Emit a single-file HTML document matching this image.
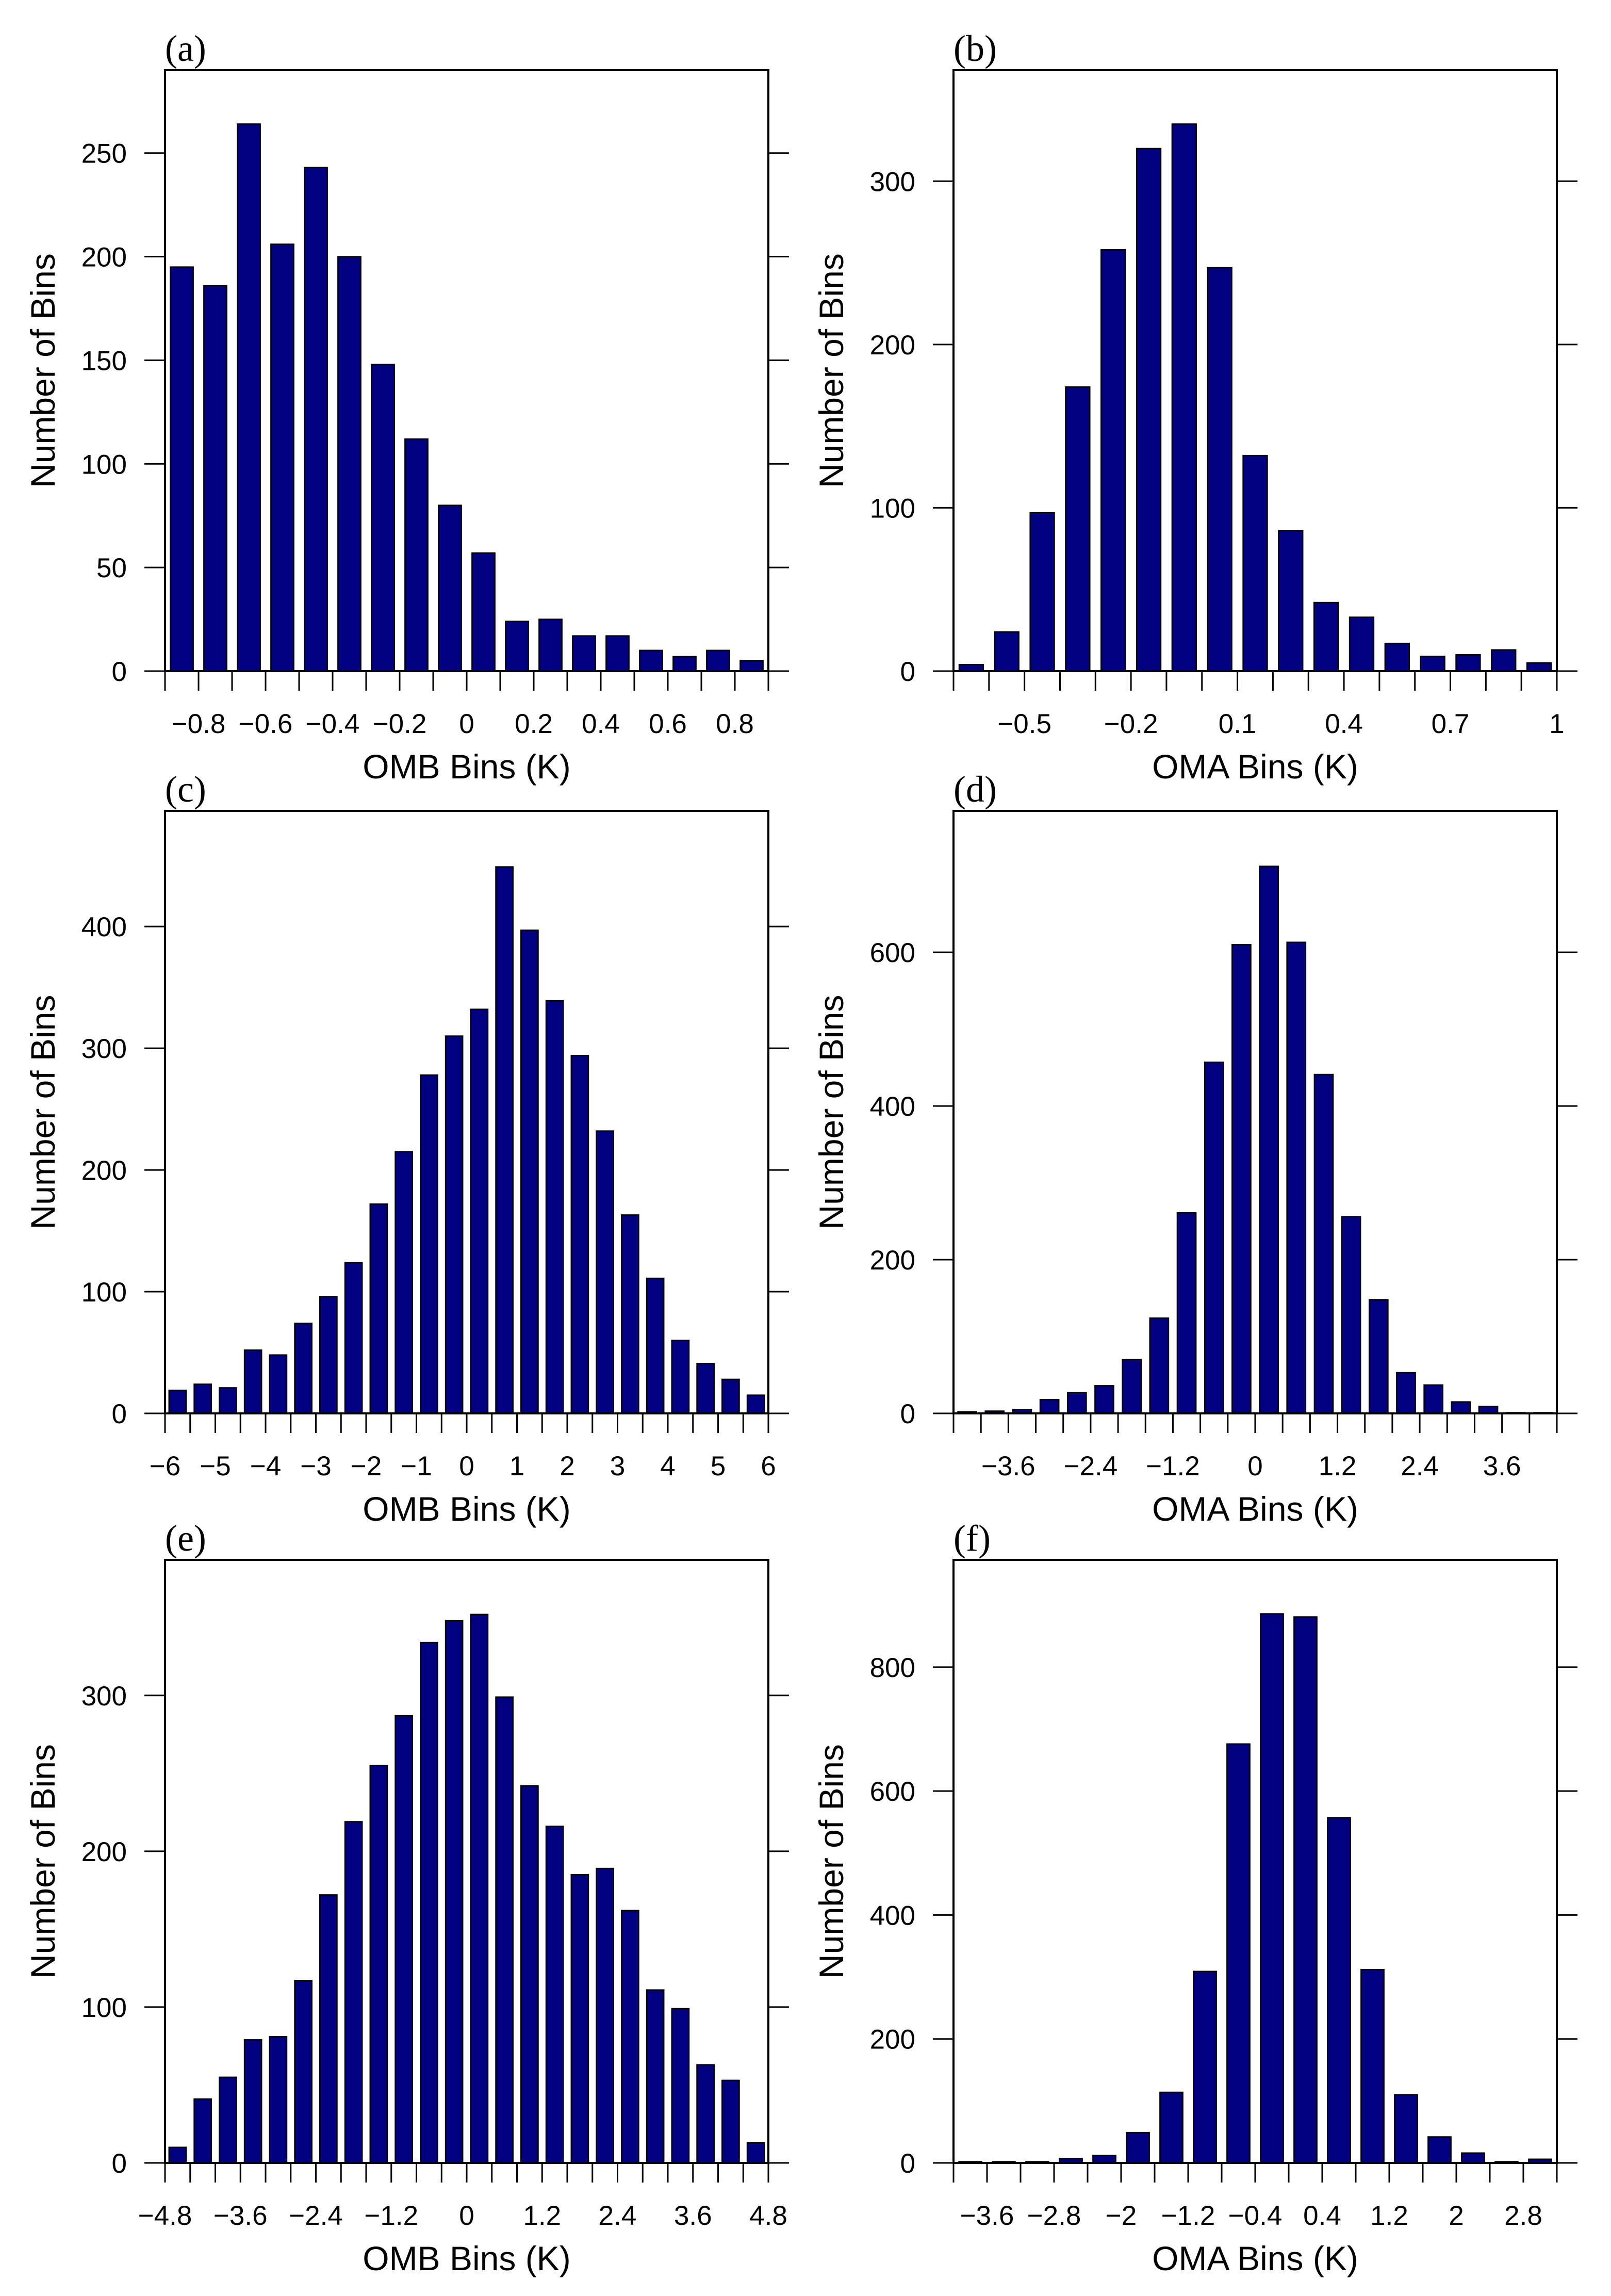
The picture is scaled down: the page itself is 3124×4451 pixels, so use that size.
<!DOCTYPE html>
<html><head><meta charset="utf-8"><style>
html,body{margin:0;padding:0;background:#fff}
svg{display:block}
</style></head><body>
<svg id="fig" width="3124" height="4451" viewBox="0 0 3124 4451" xmlns="http://www.w3.org/2000/svg">
<rect width="3124" height="4451" fill="#fff"/>
</svg>
<script>
// Panel (a)
const aValues = [195,186,264,206,243,200,148,112,80,57,24,25,17,17,10,7,10,5];
const aYTicks = [0,50,100,150,200,250];
const aXLabels = ["\u22120.8","\u22120.6","\u22120.4","\u22120.2","0","0.2","0.4","0.6","0.8"];
// Panel (b)
const bValues = [4,24,97,174,258,320,335,247,132,86,42,33,17,9,10,13,5];
const bYTicks = [0,100,200,300];
const bXLabels = ["\u22120.5","\u22120.2","0.1","0.4","0.7","1"];
// Panel (c)
const cValues = [19,24,21,52,48,74,96,124,172,215,278,310,332,449,397,339,294,232,163,111,60,41,28,15];
const cYTicks = [0,100,200,300,400];
const cXLabels = ["\u22126","\u22125","\u22124","\u22123","\u22122","\u22121","0","1","2","3","4","5","6"];
// Panel (d)
const dValues = [2,3,5,18,27,36,70,124,261,457,610,712,613,441,256,148,53,37,15,9,1,1];
const dYTicks = [0,200,400,600];
const dXLabels = ["\u22123.6","\u22122.4","\u22121.2","0","1.2","2.4","3.6"];
// Panel (e)
const eValues = [10,41,55,79,81,117,172,219,255,287,334,348,352,299,242,216,185,189,162,111,99,63,53,13];
const eYTicks = [0,100,200,300];
const eXLabels = ["\u22124.8","\u22123.6","\u22122.4","\u22121.2","0","1.2","2.4","3.6","4.8"];
// Panel (f)
const fValues = [2,2,2,7,12,49,114,309,676,886,881,557,312,110,42,16,2,6];
const fYTicks = [0,200,400,600,800];
const fXLabels = ["\u22123.6","\u22122.8","\u22122","\u22121.2","\u22120.4","0.4","1.2","2","2.8"];

const NS = "http://www.w3.org/2000/svg";
const svg = document.getElementById('fig');
function mk(tag, attrs, parent){
  const e = document.createElementNS(NS, tag);
  for (const k in attrs) e.setAttribute(k, attrs[k]);
  (parent||svg).appendChild(e);
  return e;
}

function panel(id, letter, xTitle, left, top, bottom, ymax, values, yTicks, xLabels, labelStart, labelEvery){
  const right = left + 1170;
  const g = mk('g', {});
  
  
  const n = values.length;
  const bw = (right - left) / n;
  const xs = i => left + i * bw;
  const ys = v => bottom - v / ymax * (bottom - top);
  // bars
  values.forEach((v, i) => {
    const w = bw * 0.68;
    const r = mk('rect', {x: xs(i) + (bw - w) / 2, y: ys(v), width: w, height: bottom - ys(v), fill: '#000080', stroke: '#000', 'stroke-width': 2.5}, g);
    
    
  });
  // frame
  const fr = mk('rect', {x: left, y: top, width: right - left, height: bottom - top, fill: 'none', stroke: '#000', 'stroke-width': 4}, g);
  
  
  // y ticks
  yTicks.forEach(t => {
    const y = ys(t);
    mk('line', {x1: left - 40, x2: left, y1: y, y2: y, stroke: '#000', 'stroke-width': 3}, g);
    mk('line', {x1: right, x2: right + 40, y1: y, y2: y, stroke: '#000', 'stroke-width': 3}, g);
    const tx = mk('text', {x: left - 74, y: y + 19, 'text-anchor': 'end', 'font-family': '"Liberation Sans", sans-serif', 'font-size': 53}, g);
    tx.textContent = t;
    
    
  });
  // x ticks
  for (let i = 0; i <= n; i++) {
    mk('line', {x1: xs(i), x2: xs(i), y1: bottom, y2: bottom + 38, stroke: '#000', 'stroke-width': 3}, g);
  }
  xLabels.forEach((lab, k) => {
    const i = labelStart + k * labelEvery;
    const tx = mk('text', {x: xs(i), y: bottom + 120, 'text-anchor': 'middle', 'font-family': '"Liberation Sans", sans-serif', 'font-size': 53}, g);
    tx.textContent = lab;
    
    
  });
  // titles
  const xt = mk('text', {x: (left + right) / 2, y: bottom + 208, 'text-anchor': 'middle', 'font-family': '"Liberation Sans", sans-serif', 'font-size': 66}, g);
  xt.textContent = xTitle;
  
  
  const cx = left - 237, cy = (top + bottom) / 2;
  const yt = mk('text', {x: cx, y: cy + 23, 'text-anchor': 'middle', transform: 'rotate(-90 ' + cx + ' ' + cy + ')', 'font-family': '"Liberation Sans", sans-serif', 'font-size': 66}, g);
  yt.textContent = 'Number of Bins';
  
  
  const pl = mk('text', {x: left, y: top - 18, 'font-family': '"Liberation Serif", serif', 'font-size': 72}, g);
  pl.textContent = '(' + letter + ')';
  
  
}

panel('a', 'a', 'OMB Bins (K)', 320, 136, 1301, 290, aValues, aYTicks, aXLabels, 1, 2);
panel('b', 'b', 'OMA Bins (K)', 1849, 136, 1301, 368, bValues, bYTicks, bXLabels, 2, 3);
panel('c', 'c', 'OMB Bins (K)', 320, 1572, 2740, 495, cValues, cYTicks, cXLabels, 0, 2);
panel('d', 'd', 'OMA Bins (K)', 1849, 1572, 2740, 784, dValues, dYTicks, dXLabels, 2, 3);
panel('e', 'e', 'OMB Bins (K)', 320, 3024, 4193, 387, eValues, eYTicks, eXLabels, 0, 3);
panel('f', 'f', 'OMA Bins (K)', 1849, 3024, 4193, 973, fValues, fYTicks, fXLabels, 1, 2);
</script>
</body></html>
